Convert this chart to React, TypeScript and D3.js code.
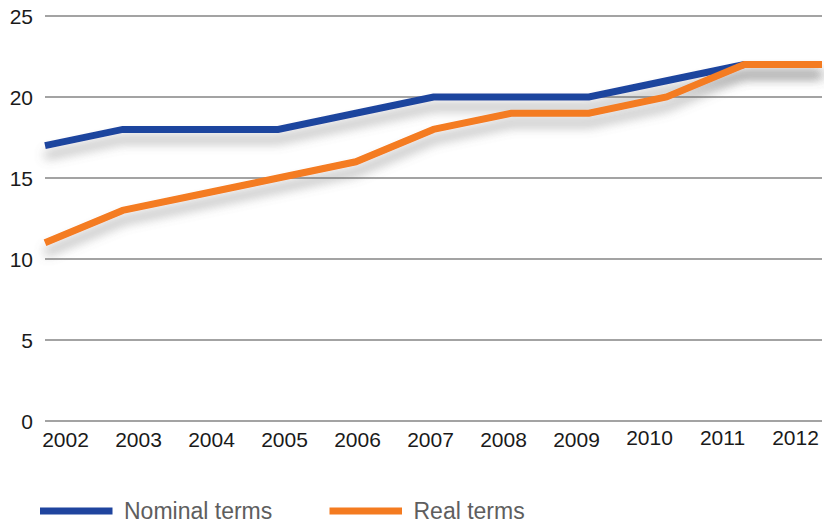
import React from "react";
import * as d3 from "d3";

const years = ["2002", "2003", "2004", "2005", "2006", "2007", "2008", "2009", "2010", "2011", "2012"];
const nominal = [17, 18, 18, 18, 19, 20, 20, 20, 21, 22, 22];
const real = [11, 13, 14, 15, 16, 18, 19, 19, 20, 22, 22];
const yTicks = [0, 5, 10, 15, 20, 25];
const seriesNames = ["Nominal terms", "Real terms"];
const seriesColors = ["#1f449e", "#f47b20"];

const W = 824;
const H = 524;

export default function App() {
  const x = d3.scalePoint<string>().domain(years).range([45, 822]);
  const xLabel = d3.scalePoint<string>().domain(years).range([65.5, 795.5]);
  const y = d3.scaleLinear().domain([0, 25]).range([421, 16]);
  const line = d3
    .line<number>()
    .x((_, i) => x(years[i]) as number)
    .y((d) => y(d));
  const series = [nominal, real];
  const font = "'Liberation Sans', Arial, sans-serif";

  return (
    <svg
      width={W}
      height={H}
      viewBox={`0 0 ${W} ${H}`}
      style={{ position: "absolute", left: 0, top: 0, background: "#fff" }}
    >
      <defs>
        <filter id="shadow" x="-10%" y="-60%" width="120%" height="280%">
          <feGaussianBlur in="SourceAlpha" stdDeviation="5.5" result="blur" />
          <feOffset in="blur" dx="0" dy="10" result="off" />
          <feFlood floodColor="#6a6a6a" floodOpacity="0.5" result="col" />
          <feComposite in="col" in2="off" operator="in" result="sh" />
          <feMerge>
            <feMergeNode in="sh" />
            <feMergeNode in="SourceGraphic" />
          </feMerge>
        </filter>
      </defs>
      {yTicks.map((t) => (
        <g key={t}>
          <line x1={45} x2={822} y1={y(t)} y2={y(t)} stroke="#858585" strokeWidth={1.5} />
          <text
            x={33}
            y={y(t)}
            textAnchor="end"
            dominantBaseline="central"
            fontFamily={font}
            fontSize={21}
            fill="#1a1a1a"
          >
            {t}
          </text>
        </g>
      ))}
      {years.map((yr) => (
        <text
          key={yr}
          x={xLabel(yr)}
          y={yr >= "2010" ? 445 : 447}
          textAnchor="middle"
          fontFamily={font}
          fontSize={21}
          fill="#1a1a1a"
        >
          {yr}
        </text>
      ))}
      {series.map((s, i) => (
        <path
          key={i}
          d={line(s) || ""}
          fill="none"
          stroke={seriesColors[i]}
          strokeWidth={7}
          strokeLinejoin="miter"
          strokeLinecap="butt"
          filter="url(#shadow)"
        />
      ))}
      {seriesNames.map((n, i) => {
        const lx = i === 0 ? 40 : 329.5;
        return (
          <g key={n}>
            <line x1={lx} x2={lx + 72.5} y1={511} y2={511} stroke={seriesColors[i]} strokeWidth={7} />
            <text
              x={lx + 84}
              y={519}
              fontFamily={font}
              fontSize={23}
              fill="#5e5e5e"
            >
              {n}
            </text>
          </g>
        );
      })}
    </svg>
  );
}
